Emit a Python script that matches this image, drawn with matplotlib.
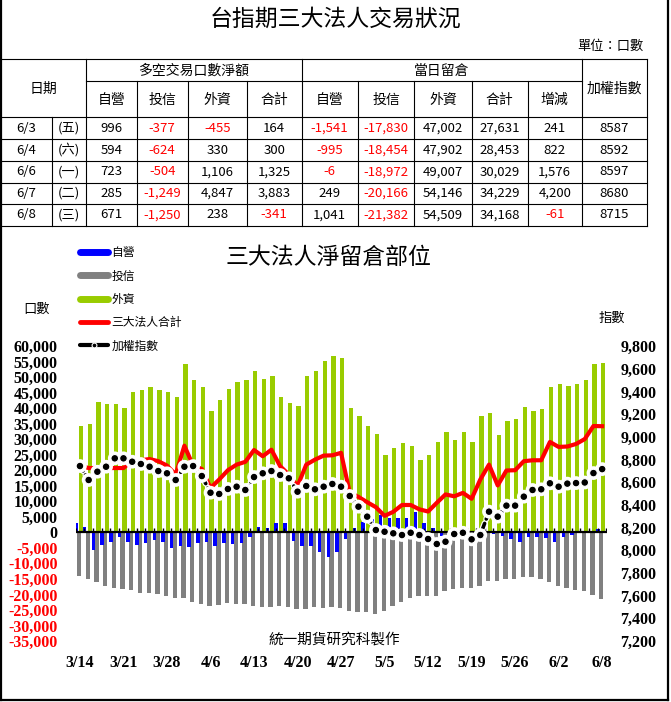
import numpy as np
import matplotlib
matplotlib.use('Agg')
import matplotlib.pyplot as plt
from matplotlib.lines import Line2D
from matplotlib import patheffects as pe

plt.rcParams['font.family'] = ['Noto Sans CJK TC', 'DejaVu Sans']

# ---- table data (last five sessions) ----
tbl_dates = ['6/3', '6/4', '6/6', '6/7', '6/8']
tbl_wdays = ['(五)', '(六)', '(一)', '(二)', '(三)']
net_dealer = [996, 594, 723, 285, 671]
net_trust = [-377, -624, -504, -1249, -1250]
net_foreign = [-455, 330, 1106, 4847, 238]
net_total = [164, 300, 1325, 3883, -341]
oi_dealer = [-1541, -995, -6, 249, 1041]
oi_trust = [-17830, -18454, -18972, -20166, -21382]
oi_foreign = [47002, 47902, 49007, 54146, 54509]
oi_total = [27631, 28453, 30029, 34229, 34168]
oi_change = [241, 822, 1576, 4200, -61]
tbl_index = [8587, 8592, 8597, 8680, 8715]

# ---- chart data (3/14 - 6/8) ----
dates = ['3/14', '3/15', '3/16', '3/17', '3/18', '3/21', '3/22', '3/23', '3/24', '3/25',
         '3/28', '3/29', '3/30', '3/31', '4/1', '4/6', '4/7', '4/8', '4/11', '4/12',
         '4/13', '4/14', '4/15', '4/18', '4/19', '4/20', '4/21', '4/22', '4/25', '4/26',
         '4/27', '4/28', '4/29', '5/3', '5/4', '5/5', '5/6', '5/9', '5/10', '5/11',
         '5/12', '5/13', '5/16', '5/17', '5/18', '5/19', '5/20', '5/23', '5/24', '5/25',
         '5/26', '5/27', '5/30', '5/31', '6/1', '6/2', '6/3', '6/4', '6/6', '6/7', '6/8']
dealer = [3000, 1800, -5800, -4200, -3200, -1400, -3200, -4000, -3600, -2400,
          -3200, -5000, -4500, -4700, -3300, -3100, -4400, -3500, -3900, -3500,
          -1600, 1800, 1500, 3000, 3000, -2800, -4400, -4400, -6400, -8000,
          -6300, -2000, 1500, 3300, 4200, 5500, 4700, 4500, 4500, 6500,
          3000, 1500, -1100, 400, -1600, -800, -2500, -800, -600, -1100,
          -2000, -3200, -1400, -1600, -1900, -3000, -1541, -995, -6, 249, 1041]
trust = [-14200, -15100, -16100, -17200, -17800, -18100, -18500, -19400, -19600, -20000,
         -20600, -21000, -21300, -22400, -23100, -23600, -23300, -22800, -23000, -23100,
         -23600, -24200, -24200, -23600, -24200, -24700, -24700, -24200, -24500, -24200,
         -24500, -25200, -25800, -25600, -26300, -25200, -23600, -22600, -21000, -20600,
         -20400, -20400, -19000, -18300, -17800, -17800, -17400, -15800, -15600, -15100,
         -14900, -14500, -14500, -15100, -16100, -17200, -17830, -18454, -18972, -20166, -21382]
foreign = [34300, 35000, 42100, 41400, 41300, 40000, 45300, 45700, 46700, 45900,
           45100, 43500, 54100, 48900, 46700, 39100, 42700, 46100, 48500, 48900,
           51800, 49300, 50200, 43500, 41600, 40800, 50200, 51800, 55300, 56800,
           56000, 40000, 37500, 34300, 31700, 25000, 27200, 28800, 27900, 23200,
           25000, 29100, 32400, 29800, 32200, 29100, 37500, 38400, 31200, 35900,
           36500, 40300, 39100, 39700, 46900, 47800, 47002, 47902, 49007, 54146, 54509]
total = [21500, 20700, 20700, 20700, 20700, 20700, 23200, 23200, 23600, 22900,
         21500, 18600, 27900, 21500, 20400, 14300, 17000, 20000, 21800, 22700,
         26500, 24500, 26600, 21300, 18600, 14900, 21800, 23400, 24700, 24800,
         25600, 12700, 11400, 9700, 8100, 5300, 6600, 8800, 8800, 7400,
         6700, 9500, 12200, 11600, 12700, 10800, 17000, 21800, 15100, 19900,
         20000, 22900, 23200, 23200, 29100, 27500, 27631, 28453, 30029, 34229, 34168]
taiex = [8742, 8619, 8692, 8736, 8810, 8810, 8780, 8760, 8736, 8698,
         8678, 8619, 8736, 8742, 8654, 8507, 8496, 8540, 8560, 8531,
         8645, 8678, 8698, 8663, 8634, 8516, 8566, 8537, 8560, 8584,
         8560, 8478, 8384, 8296, 8178, 8163, 8149, 8134, 8154, 8134,
         8099, 8055, 8075, 8143, 8154, 8096, 8134, 8340, 8296, 8393,
         8393, 8472, 8531, 8537, 8590, 8560, 8587, 8592, 8597, 8680, 8715]

W, H = 671, 702
fig = plt.figure(figsize=(W / 100, H / 100), dpi=100)

# page layer in pixel coordinates (table, frame, captions)
pg = fig.add_axes([0, 0, 1, 1])
pg.set_xlim(0, W)
pg.set_ylim(H, 0)
pg.axis('off')

pg.plot([1, 1], [0, 700], color='black', lw=1.6)
pg.plot([668, 668], [0, 700], color='black', lw=1.6)
pg.plot([0, 668], [700, 700], color='black', lw=1.6)

pg.text(335, 19, '台指期三大法人交易狀況', ha='center', va='center', fontsize=16.5)
pg.text(644, 46, '單位：口數', ha='right', va='center', fontsize=9.5)

col_x = [0, 51.7, 85.7, 136.7, 187.7, 246.7, 301.7, 357.7, 414.3, 471.7, 527.7, 581.7, 646.7]
row_y = [59.3, 81.3, 117.3, 139.3, 160.7, 182.7, 204, 225.7]
tl = dict(color='black', lw=0.8)
pg.plot([0, 646.7], [59.3, 59.3], **tl)
pg.plot([85.7, 581.7], [81.3, 81.3], **tl)
for y in row_y[2:]:
    pg.plot([0, 646.7], [y, y], **tl)
pg.plot([51.7, 51.7], [117.3, 225.7], **tl)
for x in [85.7, 301.7, 581.7, 646.7]:
    pg.plot([x, x], [59.3, 225.7], **tl)
for x in [136.7, 187.7, 246.7, 357.7, 414.3, 471.7, 527.7]:
    pg.plot([x, x], [81.3, 225.7], **tl)

hs = 10
pg.text(43, 89, '日期', ha='center', va='center', fontsize=hs)
pg.text(193.7, 71, '多空交易口數淨額', ha='center', va='center', fontsize=hs)
pg.text(441.7, 71, '當日留倉', ha='center', va='center', fontsize=hs)
pg.text(614, 89, '加權指數', ha='center', va='center', fontsize=hs)
subs = ['自營', '投信', '外資', '合計', '自營', '投信', '外資', '合計', '增減']
for k, s in enumerate(subs):
    cx = (col_x[k + 2] + col_x[k + 3]) / 2
    pg.text(cx, 100, s, ha='center', va='center', fontsize=hs)

cols = [net_dealer, net_trust, net_foreign, net_total,
        oi_dealer, oi_trust, oi_foreign, oi_total, oi_change]
for r in range(5):
    cy = (row_y[r + 2] + row_y[r + 3]) / 2
    pg.text(26, cy, tbl_dates[r], ha='center', va='center', fontsize=9.5)
    pg.text(68.7, cy, tbl_wdays[r], ha='center', va='center', fontsize=9.5)
    for k, c in enumerate(cols):
        v = c[r]
        cx = (col_x[k + 2] + col_x[k + 3]) / 2
        pg.text(cx, cy, f'{v:,}', ha='center', va='center', fontsize=9.5,
                color='red' if v < 0 else 'black')
    pg.text(614, cy, str(tbl_index[r]), ha='center', va='center', fontsize=9.5)

pg.text(328, 258, '三大法人淨留倉部位', ha='center', va='center', fontsize=16.5)
pg.text(37, 309, '口數', ha='center', va='center', fontsize=9.5)
pg.text(612, 318, '指數', ha='center', va='center', fontsize=9.5)
pg.text(334, 640, '統一期貨研究科製作', ha='center', va='center', fontsize=10.5)

# ---- chart ----
x = np.arange(len(dates))
ax = fig.add_axes([75.6 / W, (H - 641) / H, 530.9 / W, 295 / H])
ax.patch.set_visible(False)
ax.set_xlim(-0.5, len(dates) - 0.5)
ax.set_ylim(-35000, 60000)

ax.bar(x - 0.1, trust, width=0.5, color='#808080', zorder=2)
ax.bar(x + 0.12, foreign, width=0.5, color='#99CC00', zorder=2)
ax.bar(x - 0.46, dealer, width=0.4, color='#0000FF', zorder=2)
ax.axhline(0, color='black', lw=1.6, zorder=3)
ax.vlines(np.arange(-0.5, len(dates), 1), 0, 1300, color='black', lw=1, zorder=3)
ax.plot(x, total, color='red', lw=3, zorder=4, solid_joinstyle='round')

bold = dict(fontfamily='Liberation Serif', fontweight='bold', fontsize=11.5)
yt = list(range(-35000, 60001, 5000))
ax.set_yticks(yt, labels=[f'{v:,}' for v in yt], **bold)
for lab, v in zip(ax.get_yticklabels(), yt):
    if v < 0:
        lab.set_color('red')
ax.set_xticks(x[::5], labels=[dates[i] for i in x[::5]], **bold)
ax.tick_params(axis='y', length=0, pad=13)
ax.tick_params(axis='x', length=0, pad=10)
for s in ax.spines.values():
    s.set_visible(False)

ax2 = ax.twinx()
ax2.patch.set_visible(False)
ax2.set_ylim(7200, 9800)
rt = list(range(7200, 9801, 200))
ax2.set_yticks(rt, labels=[f'{v:,}' for v in rt], **bold)
ax2.tick_params(axis='y', length=0, pad=10)
for s in ax2.spines.values():
    s.set_visible(False)
ax2.plot(x, taiex, color='black', lw=2.6, ls=(0, (1.6, 1.3)), dash_capstyle='round',
         marker='o', ms=5.5, mfc='black', mec='white', mew=0.8, zorder=5,
         path_effects=[pe.Stroke(linewidth=4.4, foreground='white'), pe.Normal()])

handles = [
    Line2D([], [], color='#0000FF', lw=5, solid_capstyle='round'),
    Line2D([], [], color='#808080', lw=5, solid_capstyle='round'),
    Line2D([], [], color='#99CC00', lw=5, solid_capstyle='round'),
    Line2D([], [], color='red', lw=3.5, solid_capstyle='round'),
    Line2D([], [], color='black', lw=3, solid_capstyle='round', marker='o', ms=3.5,
           mfc='black', mec='white', mew=0.8),
]
labels = ['自營', '投信', '外資', '三大法人合計', '加權指數']
fig.legend(handles, labels, loc='upper left', bbox_to_anchor=(80 / W, 1 - 246 / H),
           frameon=False, fontsize=8.5, handlelength=2.4, handletextpad=0.25,
           labelspacing=0.88, borderpad=0, borderaxespad=0)

fig.savefig('out.png', dpi=100)
plt.close(fig)
